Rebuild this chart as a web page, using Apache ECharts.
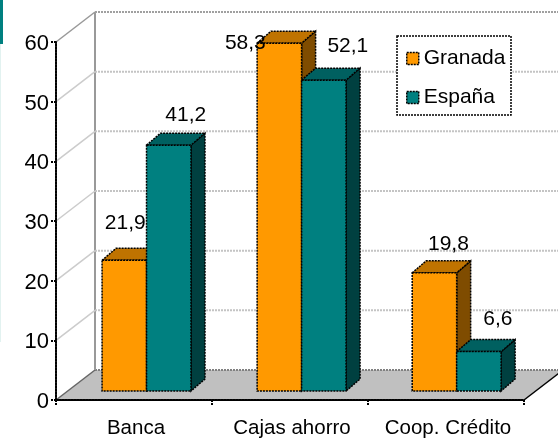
<!DOCTYPE html>
<html><head><meta charset="utf-8">
<style>html,body{margin:0;padding:0;background:#fff}#c{width:558px;height:441px}</style>
<script src="https://cdn.jsdelivr.net/npm/echarts@6/dist/echarts.min.js"></script>
</head><body><div id="c"></div>
<script>
const categories = ['Banca', 'Cajas ahorro', 'Coop. Crédito'];
const granada = [21.9, 58.3, 19.8];
const espana = [41.2, 52.1, 6.6];
const yTicks = [0, 10, 20, 30, 40, 50, 60];
const seriesNames = ['Granada', 'España'];

// Style / projection settings (pixels)
const FAMILY = '"Liberation Sans", Arial, sans-serif';
const FONT = '21px ' + FAMILY;
const WALL = { dx: 39, dy: -30 };
const PLANE = { dx: 13, dy: -9, sx: 0.994 };
const DEPTH = { dx: 14, dy: -12 };
const BAR_FRAC = 0.285;
const OUTLINE = { stroke: '#000', lineWidth: 1.5, lineDash: [2, 1] };
const granadaLabelShift = [[1, -37], [-34, 0], [14, -29]];
const espanaLabelShift = [[17, -30], [24, -34], [19, -32]];

function barRender(slot, palette, shifts) {
  return function (params, api) {
    const cat = api.value(0), v = api.value(1);
    const band = api.size([1, 0])[0];
    const w = band * BAR_FRAC;
    const top = api.coord([cat, v]);
    const base = api.coord([cat, 0]);
    const gl = params.coordSys.x;
    const x0 = gl + (top[0] - gl) * PLANE.sx + PLANE.dx + (slot - 1) * w;
    const x1 = x0 + w;
    const y0 = top[1] + PLANE.dy;
    const y1 = base[1] + PLANE.dy;
    const d = DEPTH;
    const s = shifts[params.dataIndex];
    return {
      type: 'group',
      children: [
        { type: 'polygon', shape: { points: [[x1, y0], [x1 + d.dx, y0 + d.dy], [x1 + d.dx, y1 + d.dy], [x1, y1]] },
          style: Object.assign({ fill: palette.side }, OUTLINE) },
        { type: 'polygon', shape: { points: [[x0, y0], [x0 + d.dx, y0 + d.dy], [x1 + d.dx, y0 + d.dy], [x1, y0]] },
          style: Object.assign({ fill: palette.top }, OUTLINE) },
        { type: 'rect', shape: { x: x0, y: y0, width: w, height: y1 - y0 },
          style: Object.assign({ fill: palette.front }, OUTLINE) },
        { type: 'text', z2: 50,
          style: { text: String(v).replace('.', ','), x: (x0 + x1) / 2 + s[0], y: y0 + s[1],
                   align: 'center', verticalAlign: 'middle', font: FONT, fill: '#000' } }
      ]
    };
  };
}

function wallRender(params, api) {
  const v = api.value(0);
  const cs = params.coordSys;
  const p = api.coord([0, v]);
  const xL = cs.x, xR = cs.x + cs.width;
  const y = p[1];
  const bx = xL + WALL.dx, by = y + WALL.dy, rx = xR + WALL.dx;
  const children = [];
  if (v === 0) {
    children.push({ type: 'polygon', shape: { points: [[xL, y], [bx, by], [rx, by], [xR, y]] },
      style: { fill: '#C0C0C0', stroke: null } });
    children.push({ type: 'line', shape: { x1: bx, y1: by, x2: rx, y2: by },
      style: { stroke: '#808080', lineWidth: 2, lineDash: [2, 1] } });
    children.push({ type: 'line', shape: { x1: xL, y1: y, x2: bx, y2: by },
      style: { stroke: '#666', lineWidth: 1.5 } });
    children.push({ type: 'line', shape: { x1: xR, y1: y, x2: rx, y2: by },
      style: { stroke: '#000', lineWidth: 1.5 } });
    const topC = api.coord([0, yTicks[yTicks.length - 1]]);
    children.push({ type: 'line', shape: { x1: bx, y1: topC[1] + WALL.dy, x2: bx, y2: by },
      style: { stroke: '#999', lineWidth: 2 } });
  } else if (v === yTicks[yTicks.length - 1]) {
    children.push({ type: 'line', shape: { x1: bx, y1: by, x2: rx, y2: by },
      style: { stroke: '#A0A0A0', lineWidth: 2, lineDash: [2, 1] } });
    children.push({ type: 'line', shape: { x1: xL, y1: y, x2: bx, y2: by },
      style: { stroke: '#999', lineWidth: 1.5 } });
  } else {
    children.push({ type: 'line', shape: { x1: bx, y1: by, x2: rx, y2: by },
      style: { stroke: '#C4C4C4', lineWidth: 2, lineDash: [2, 1] } });
    children.push({ type: 'line', shape: { x1: xL, y1: y, x2: bx, y2: by },
      style: { stroke: '#CCC', lineWidth: 1.5 } });
  }
  return { type: 'group', children };
}

const axisDash = { color: '#000', width: 2, type: [2, 1] };
const chart = echarts.init(document.getElementById('c'), null, { renderer: 'canvas' });
chart.setOption({
  animation: false,
  backgroundColor: '#fff',
  grid: { left: 56, right: 34, top: 42, bottom: 41 },
  legend: {
    data: seriesNames, orient: 'vertical', left: 397, top: 36,
    padding: [12, 7, 8, 9], itemWidth: 12, itemHeight: 12, itemGap: 18,
    icon: 'rect', backgroundColor: '#fff', z: 20,
    textStyle: { fontFamily: FAMILY, fontSize: 21, color: '#000' },
    itemStyle: { borderColor: '#000', borderWidth: 1.5, borderType: [2, 1] }
  },
  graphic: [
    { type: 'rect', silent: true, z: 30, shape: { x: 397, y: 36, width: 114, height: 79 },
      style: { fill: null, stroke: '#000', lineWidth: 1.5, lineDash: [2, 1] } },
    { type: 'rect', silent: true, z: 0, shape: { x: 0, y: 44, width: 1, height: 298 }, style: { fill: '#E2F2F0' } },
    { type: 'rect', silent: true, z: 0, shape: { x: 0, y: 0, width: 3, height: 44 }, style: { fill: '#008080' } }
  ],
  xAxis: {
    type: 'category', data: categories, z: 10,
    axisLine: { show: true, lineStyle: axisDash },
    axisTick: { show: true, length: 6, interval: 0, lineStyle: axisDash },
    axisLabel: { fontFamily: FAMILY, fontSize: 20.5, color: '#000', margin: 18, interval: 0, hideOverlap: false, padding: [0, 0, 0, 4] },
    splitLine: { show: false }
  },
  yAxis: {
    type: 'value', min: 0, max: 60, interval: 10, z: 10,
    axisLine: { show: true, onZero: false, lineStyle: axisDash },
    axisTick: { show: true, length: 6, lineStyle: axisDash },
    axisLabel: { fontFamily: FAMILY, fontSize: 22, color: '#000', margin: 7, padding: [0, 0, 0, 0],
                 formatter: '{t|{value}}', rich: { t: { fontFamily: FAMILY, fontSize: 22, color: '#000', padding: [4, 0, 0, 0] } } },
    splitLine: { show: false }
  },
  series: [
    { type: 'custom', name: 'wall', silent: true, z: 1, clip: false,
      encode: { y: 0 }, data: yTicks.map(v => [v]), renderItem: wallRender },
    { type: 'custom', name: seriesNames[0], z: 3, clip: false, itemStyle: { color: '#FF9900' },
      encode: { x: 0, y: 1 }, data: granada.map((v, i) => [i, v]),
      renderItem: barRender(0, { front: '#FF9900', top: '#BF7300', side: '#7F4C00' }, granadaLabelShift) },
    { type: 'custom', name: seriesNames[1], z: 4, clip: false, itemStyle: { color: '#008080' },
      encode: { x: 0, y: 1 }, data: espana.map((v, i) => [i, v]),
      renderItem: barRender(1, { front: '#008080', top: '#006060', side: '#004040' }, espanaLabelShift) }
  ]
});
</script></body></html>
